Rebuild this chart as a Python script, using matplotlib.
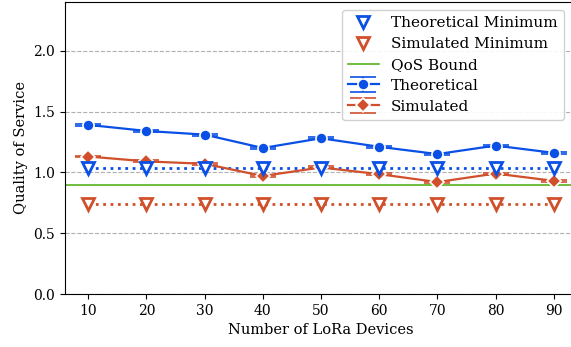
import matplotlib
matplotlib.use("Agg")
import matplotlib.pyplot as plt
import numpy as np

devices = [10, 20, 30, 40, 50, 60, 70, 80, 90]
theoretical = [1.39, 1.34, 1.31, 1.20, 1.28, 1.21, 1.15, 1.22, 1.16]
simulated = [1.13, 1.09, 1.07, 0.97, 1.04, 0.985, 0.92, 0.99, 0.93]
theo_err = [0.008] * 9
sim_err = [0.008] * 9
theo_min = [1.035] * 9
sim_min = [0.74] * 9
qos_bound = 0.9

blue = '#0a50e6'
red = '#d1502c'
green = '#55b21d'

plt.rcParams['font.family'] = ['DejaVu Serif']
fig = plt.figure(figsize=(5.71, 3.47), dpi=100)
ax = fig.add_axes([65/571, 1 - 294/347, (577-65)/571, (294-2)/347])

ax.grid(axis='y', linestyle='--', color='#b0b0b0', linewidth=0.8)
ax.set_axisbelow(True)

ax.plot(devices, theo_min, linestyle=':', color=blue, linewidth=2, zorder=3)
ax.plot(devices, theo_min, linestyle='none', marker='v', markersize=8,
        markerfacecolor='white', markeredgecolor=blue, markeredgewidth=2,
        label='Theoretical Minimum', zorder=6)
ax.plot(devices, sim_min, linestyle=':', color=red, linewidth=2, zorder=3)
ax.plot(devices, sim_min, linestyle='none', marker='v', markersize=8,
        markerfacecolor='white', markeredgecolor=red, markeredgewidth=2,
        label='Simulated Minimum', zorder=6)
ax.axhline(qos_bound, color=green, linewidth=1.2, label='QoS Bound', zorder=2)

ax.errorbar(devices, theoretical, yerr=theo_err, color=blue, linewidth=1.6,
            marker='o', markersize=8, markeredgecolor='white', markeredgewidth=1.2,
            capsize=9.5, capthick=2.4, elinewidth=1.6, label='Theoretical', zorder=5)
ax.errorbar(devices, simulated, yerr=sim_err, color=red, linewidth=1.6,
            marker='D', markersize=7, markeredgecolor='white', markeredgewidth=1.2,
            capsize=9.5, capthick=2.4, elinewidth=1.6, label='Simulated', zorder=5)

ax.set_xlim(6, 94)
ax.set_ylim(0, 2.4)
ax.set_xticks(devices)
ax.set_yticks([0.0, 0.5, 1.0, 1.5, 2.0])
ax.set_yticklabels(['0.0', '0.5', '1.0', '1.5', '2.0'])
ax.tick_params(labelsize=10)
ax.set_xlabel('Number of LoRa Devices', fontsize=10.5)
ax.set_ylabel('Quality of Service', fontsize=10.5)

ax.legend(loc='upper left', fontsize=11, framealpha=0.9,
          bbox_to_anchor=((342-65)/(577-65), (294-10)/292), borderaxespad=0,
          labelspacing=0.45, handletextpad=0.8)

fig.savefig('out.png', dpi=100)
